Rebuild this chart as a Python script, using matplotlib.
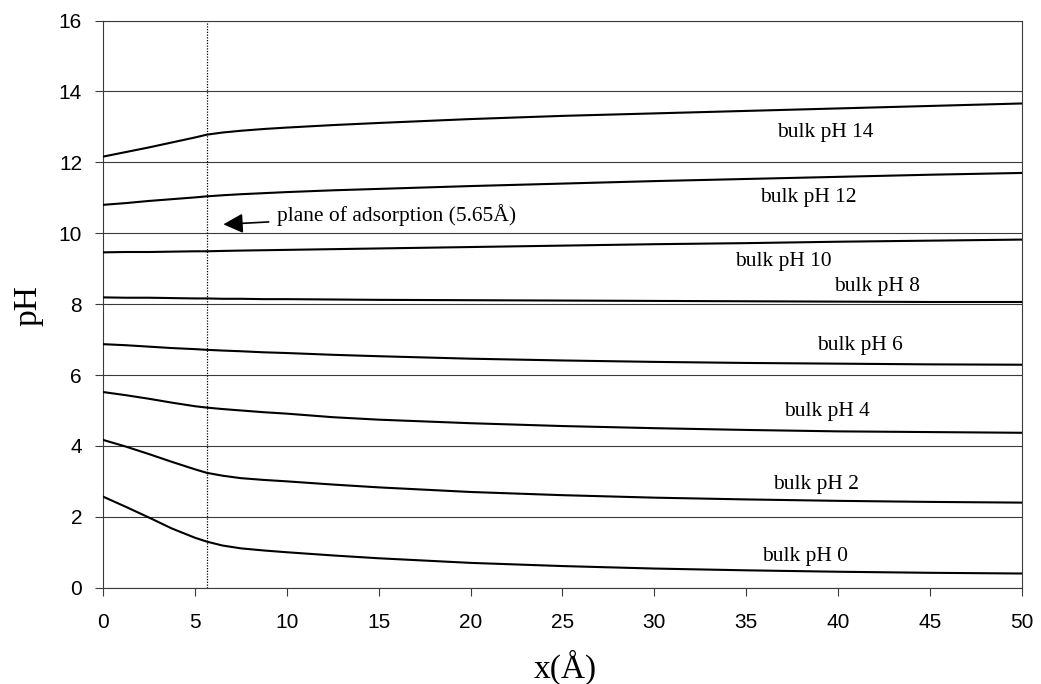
import matplotlib
matplotlib.use("Agg")
import matplotlib.pyplot as plt

# Distance from the surface (Å)
x_dist = [0, 1.25, 2.5, 3.75, 5, 5.65, 6.5, 7.5, 8.75, 10, 12.5, 15, 20, 25, 30, 35, 40, 45, 50]

# Local pH profiles for each bulk pH
ph_bulk0 = [2.57, 2.28, 1.98, 1.67, 1.41, 1.30, 1.19, 1.11, 1.05, 1.00, 0.91, 0.83, 0.70, 0.61, 0.54, 0.49, 0.45, 0.42, 0.40]
ph_bulk2 = [4.17, 3.98, 3.77, 3.55, 3.34, 3.24, 3.16, 3.09, 3.04, 3.00, 2.91, 2.83, 2.70, 2.61, 2.54, 2.49, 2.45, 2.42, 2.40]
ph_bulk4 = [5.52, 5.43, 5.33, 5.22, 5.12, 5.08, 5.04, 5.00, 4.95, 4.91, 4.81, 4.74, 4.64, 4.56, 4.50, 4.45, 4.41, 4.39, 4.37]
ph_bulk6 = [6.87, 6.84, 6.80, 6.76, 6.73, 6.71, 6.69, 6.67, 6.64, 6.62, 6.57, 6.53, 6.46, 6.41, 6.37, 6.34, 6.32, 6.30, 6.29]
ph_bulk8 = [8.19, 8.18, 8.18, 8.17, 8.16, 8.16, 8.15, 8.15, 8.14, 8.14, 8.13, 8.12, 8.11, 8.10, 8.09, 8.08, 8.07, 8.06, 8.06]
ph_bulk10 = [9.46, 9.47, 9.47, 9.48, 9.49, 9.49, 9.50, 9.51, 9.52, 9.53, 9.55, 9.57, 9.61, 9.65, 9.69, 9.72, 9.76, 9.79, 9.82]
ph_bulk12 = [10.80, 10.85, 10.91, 10.96, 11.01, 11.04, 11.07, 11.10, 11.13, 11.16, 11.21, 11.25, 11.33, 11.40, 11.47, 11.53, 11.59, 11.65, 11.70]
ph_bulk14 = [12.16, 12.29, 12.42, 12.56, 12.70, 12.78, 12.84, 12.89, 12.94, 12.98, 13.05, 13.11, 13.22, 13.31, 13.38, 13.45, 13.52, 13.59, 13.66]

profiles = [ph_bulk0, ph_bulk2, ph_bulk4, ph_bulk6, ph_bulk8, ph_bulk10, ph_bulk12, ph_bulk14]
curve_labels = ["bulk pH 0", "bulk pH 2", "bulk pH 4", "bulk pH 6",
                "bulk pH 8", "bulk pH 10", "bulk pH 12", "bulk pH 14"]
label_x = [38.2, 38.8, 39.4, 41.2, 42.1, 37.0, 38.4, 39.3]
label_y = [0.87, 2.90, 4.98, 6.82, 8.51, 9.19, 11.00, 12.83]

plane_x = 5.65
x_ticks = list(range(0, 51, 5))
y_ticks = list(range(0, 17, 2))

serif = "Liberation Serif"
sans = "Liberation Sans"

fig = plt.figure(figsize=(10.41, 6.84), dpi=100)
ax = fig.add_axes([0.0989, 0.1408, 0.8828, 0.8292])

for yv in y_ticks:
    ax.axhline(yv, color="#3a3a3a", lw=0.8, zorder=1)

ax.axvline(plane_x, color="black", lw=0.9, ls=(0, (1, 1.2)), zorder=2)

for prof in profiles:
    ax.plot(x_dist, prof, color="black", lw=1.5, zorder=3, solid_joinstyle="round")

for txt, lx, ly in zip(curve_labels, label_x, label_y):
    ax.text(lx, ly, txt, family=serif, fontsize=15.5, ha="center", va="center")

ax.annotate("plane of adsorption (5.65Å)", xy=(6.55, 10.25), xytext=(9.47, 10.51),
            family=serif, fontsize=15.5, va="center", ha="left",
            arrowprops=dict(arrowstyle="-|>,head_length=0.6,head_width=0.3",
                            color="black", lw=1.2,
                            mutation_scale=20, shrinkA=4, shrinkB=0))

ax.set_xlim(0, 50)
ax.set_ylim(0, 16)
ax.set_xticks(x_ticks)
ax.set_yticks(y_ticks)
ax.tick_params(axis="both", direction="out", length=6, width=0.8, color="#3a3a3a",
               labelsize=15)
ax.tick_params(axis="x", pad=12)
ax.tick_params(axis="y", pad=9)
for lab in ax.get_xticklabels() + ax.get_yticklabels():
    lab.set_family(sans)

for sp in ax.spines.values():
    sp.set_color("#3a3a3a")
    sp.set_linewidth(0.8)

fig.text(565 / 1041, 1 - 667 / 684, "x(Å)", family=serif, fontsize=24, ha="center", va="center")
fig.text(28 / 1041, 1 - 306 / 684, "pH", family=serif, fontsize=24, ha="center", va="center",
         rotation=90)

fig.savefig("out.png", dpi=100)
